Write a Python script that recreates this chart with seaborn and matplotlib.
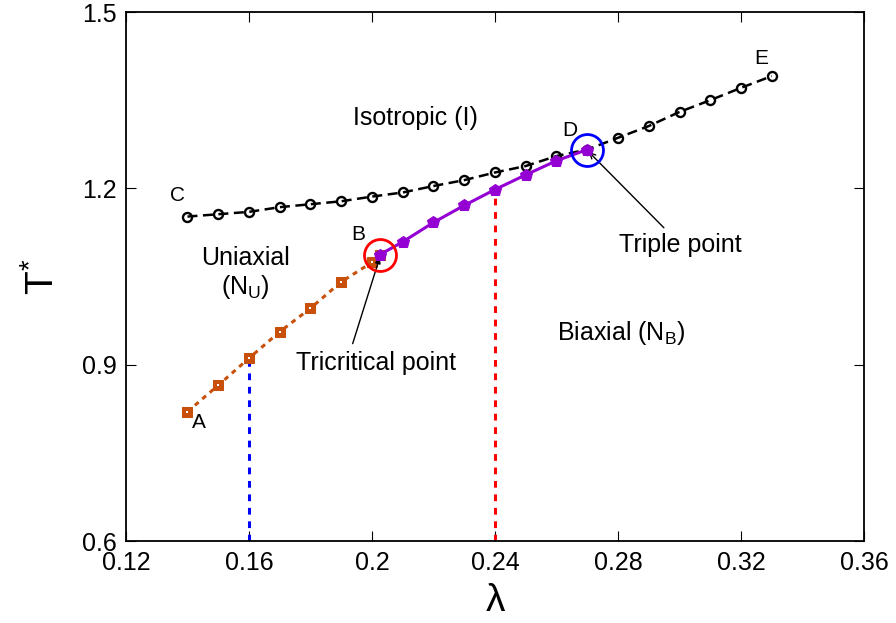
import matplotlib
matplotlib.use("Agg")
import matplotlib.pyplot as plt
import seaborn as sns
import pandas as pd

sns.set_style("ticks")
plt.rcParams['font.family'] = ['Liberation Sans', 'DejaVu Sans']
plt.rcParams['mathtext.fontset'] = 'custom'
plt.rcParams['mathtext.rm'] = 'Liberation Sans'
plt.rcParams['mathtext.it'] = 'Liberation Sans'
for k in ['text.color', 'axes.labelcolor', 'xtick.color', 'ytick.color']:
    plt.rcParams[k] = 'black'

# Uniaxial -> Biaxial (first order), A..B
lam_ub = [0.14, 0.15, 0.16, 0.17, 0.18, 0.19, 0.20, 0.2025]
T_ub = [0.820, 0.865, 0.911, 0.956, 0.996, 1.041, 1.074, 1.087]

# Uniaxial-Biaxial (second order), B..D
lam_bd = [0.2025, 0.21, 0.22, 0.23, 0.24, 0.25, 0.26, 0.27]
T_bd = [1.087, 1.109, 1.142, 1.171, 1.198, 1.223, 1.247, 1.266]

# Isotropic boundary, C..E
lam_ce = [0.14, 0.15, 0.16, 0.17, 0.18, 0.19, 0.20, 0.21, 0.22, 0.23, 0.24,
          0.25, 0.26, 0.27, 0.28, 0.29, 0.30, 0.31, 0.32, 0.33]
T_ce = [1.152, 1.156, 1.160, 1.168, 1.173, 1.178, 1.186, 1.193, 1.204, 1.214, 1.227,
        1.238, 1.255, 1.266, 1.286, 1.306, 1.330, 1.350, 1.371, 1.391]

# special points
tricritical = (0.2025, 1.087)
triple = (0.27, 1.266)
blue_vline = (0.16, 0.911)
red_vline = (0.24, 1.198)

xticks = [0.12, 0.16, 0.2, 0.24, 0.28, 0.32, 0.36]
xticklabels = ["0.12", "0.16", "0.2", "0.24", "0.28", "0.32", "0.36"]
yticks = [0.6, 0.9, 1.2, 1.5]
yticklabels = ["0.6", "0.9", "1.2", "1.5"]

fig = plt.figure(figsize=(8.96, 6.23), dpi=100)
ax = fig.add_axes([0.1406, 0.1316, 0.8237, 0.8491])

orange = "#c8500a"
purple = "#9400d3"

# vertical dashed lines
ax.plot([blue_vline[0], blue_vline[0]], [0.6, blue_vline[1]], color="#0000ff",
        linestyle=(0, (2.2, 2.2)), linewidth=2.2, zorder=1)
ax.plot([red_vline[0], red_vline[0]], [0.6, red_vline[1]], color="#ff0000",
        linestyle=(0, (2.2, 2.2)), linewidth=2.2, zorder=1)

df_ce = pd.DataFrame({"lam": lam_ce, "T": T_ce})
sns.lineplot(data=df_ce, x="lam", y="T", ax=ax, color="black",
             linestyle=(0, (4, 2.2)), linewidth=1.8, marker="o", markersize=6.5,
             markerfacecolor="none", markeredgecolor="black", markeredgewidth=1.7,
             sort=False, zorder=2)

df_ub = pd.DataFrame({"lam": lam_ub, "T": T_ub})
sns.lineplot(data=df_ub, x="lam", y="T", ax=ax, color=orange,
             linestyle=(0, (1.6, 1.6)), linewidth=2.2, marker="s", markersize=7,
             markerfacecolor=orange, markeredgecolor=orange,
             sort=False, zorder=3)
sns.scatterplot(data=df_ub, x="lam", y="T", ax=ax, color="white", marker="s",
                s=3, linewidth=0, zorder=3.5)

df_bd = pd.DataFrame({"lam": lam_bd, "T": T_bd})
sns.lineplot(data=df_bd, x="lam", y="T", ax=ax, color=purple,
             linestyle="-", linewidth=2.2, marker="p", markersize=9,
             markerfacecolor=purple, markeredgecolor=purple,
             sort=False, zorder=4)

# circles around special points
ax.plot([tricritical[0]], [tricritical[1]], marker="o", markersize=23,
        markerfacecolor="none", markeredgecolor="#ff0000", markeredgewidth=2, zorder=5)
ax.plot([triple[0]], [triple[1]], marker="o", markersize=23,
        markerfacecolor="none", markeredgecolor="#0000ff", markeredgewidth=2, zorder=5)

fs = 18
ax.annotate("Tricritical point", xy=(0.2025, 1.082), xytext=(0.2013, 0.903),
            ha="center", va="center", fontsize=fs,
            arrowprops=dict(arrowstyle="-|>", color="black", lw=1, shrinkA=3, shrinkB=0,
                            mutation_scale=8, relpos=(0.34, 1.0)))
ax.annotate("Triple point", xy=(0.2705, 1.262), xytext=(0.3002, 1.1036),
            ha="center", va="center", fontsize=fs,
            arrowprops=dict(arrowstyle="->", color="black", lw=1, shrinkA=2, shrinkB=0,
                            mutation_scale=10, relpos=(0.41, 1.0)))

fl = 15
ax.text(0.1437, 0.8008, "A", fontsize=fl, ha="center", va="center")
ax.text(0.1954, 1.122, "B", fontsize=fl, ha="center", va="center")
ax.text(0.1369, 1.187, "C", fontsize=fl, ha="center", va="center")
ax.text(0.2644, 1.299, "D", fontsize=fl, ha="center", va="center")
ax.text(0.3265, 1.4217, "E", fontsize=fl, ha="center", va="center")
ax.text(0.214, 1.3197, "Isotropic (I)", fontsize=fs, ha="center", va="center")
ax.text(0.159, 1.0815, "Uniaxial", fontsize=fs, ha="center", va="center")
ax.text(0.159, 1.032, r"(N$_\mathrm{U}$)", fontsize=fs, ha="center", va="center")
ax.text(0.281, 0.954, r"Biaxial (N$_\mathrm{B}$)", fontsize=fs, ha="center", va="center")

ax.set_xlim(0.12, 0.36)
ax.set_ylim(0.6, 1.5)
ax.set_xticks(xticks)
ax.set_xticklabels(xticklabels)
ax.set_yticks(yticks)
ax.set_yticklabels(yticklabels)
ax.tick_params(direction="in", length=7, width=0.8, labelsize=18, pad=7,
               top=True, right=True)
ax.set_xlabel("λ", fontsize=28, labelpad=6)
ax.set_ylabel("T$^{*}$", fontsize=28, labelpad=14)
for s in ax.spines.values():
    s.set_linewidth(1.3)
    s.set_color("black")

fig.savefig("out.png", dpi=100)
